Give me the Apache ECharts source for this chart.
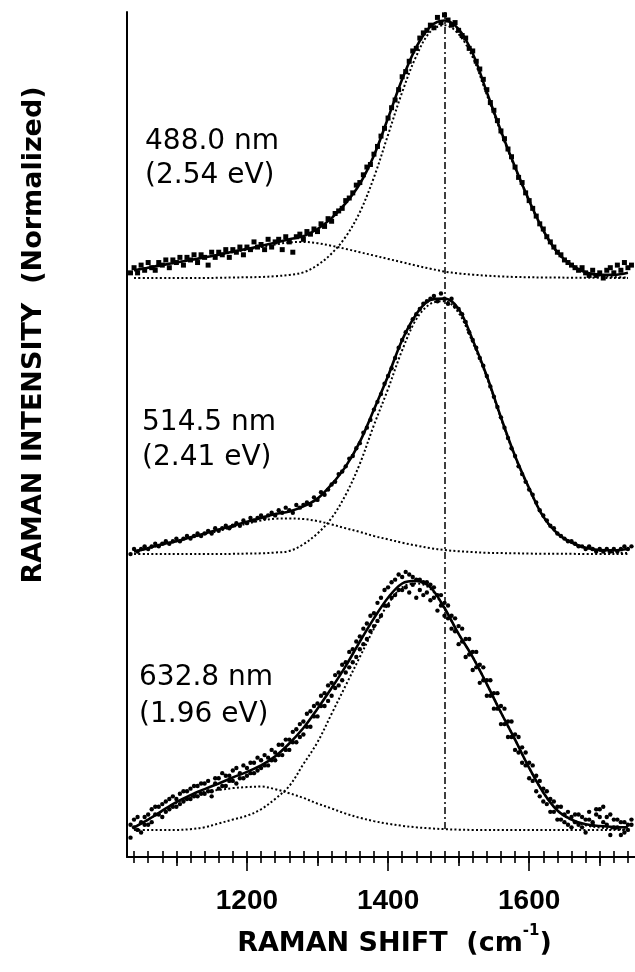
<!DOCTYPE html>
<html><head><meta charset="utf-8">
<script src="https://cdn.jsdelivr.net/npm/echarts@6/dist/echarts.min.js"></script>
<style>html,body{margin:0;padding:0;background:#fff;}#chart{width:635px;height:972px;}</style>
</head><body><div id="chart"></div>
<script>
// ---------- DATA (intensities in % of peak, per spectrum) ----------
const sampleX = [
1035,1040,1045,1050,1055,1060,1065,1070,1075,1080,
1085,1090,1095,1100,1105,1110,1115,1120,1125,1130,
1135,1140,1145,1150,1155,1160,1165,1170,1175,1180,
1185,1190,1195,1200,1205,1210,1215,1220,1225,1230,
1235,1240,1245,1250,1255,1260,1265,1270,1275,1280,
1285,1290,1295,1300,1305,1310,1315,1320,1325,1330,
1335,1340,1345,1350,1355,1360,1365,1370,1375,1380,
1385,1390,1395,1400,1405,1410,1415,1420,1425,1430,
1435,1440,1445,1450,1455,1460,1465,1470,1475,1480,
1485,1490,1495,1500,1505,1510,1515,1520,1525,1530,
1535,1540,1545,1550,1555,1560,1565,1570,1575,1580,
1585,1590,1595,1600,1605,1610,1615,1620,1625,1630,
1635,1640,1645,1650,1655,1660,1665,1670,1675,1680,
1685,1690,1695,1700,1705,1710,1715,1720,1725,1730,
1735,1740,1745];

const data488 = [
2,4,2,5,3,6,4,3,6,5,
7,4,7,6,8,5,8,7,9,6,
9,8,5,10,8,10,9,11,8,11,
10,12,9,12,11,14,12,13,11,15,
12,14,15,11,16,14,10,16,17,15,
18,17,19,18,21,20,23,22,25,26,
27,30,31,33,36,37,40,43,44,48,
51,55,58,62,66,69,73,78,80,84,
88,89,93,95,96,98,97,101,99,102,
100,98,99,96,94,93,89,88,84,81,
77,73,68,65,61,57,54,50,47,43,
39,37,33,30,27,24,21,19,16,14,
12,10,9,7,6,5,4,3,4,2,
1,3,1,2,0,3,4,2,5,3,
6,4,5];

const data514 = [
0,2,1,2,3,2,3,4,3,4,
5,4,5,6,5,6,7,6,7,8,
7,8,9,8,10,9,10,11,10,11,
12,11,13,12,14,13,14,15,14,15,
16,15,17,16,18,17,16,19,18,19,
20,19,22,21,24,23,25,27,28,31,
32,34,37,38,41,43,47,49,52,56,
59,62,66,69,72,76,80,83,86,88,
91,93,95,97,98,99,100,98,101,99,
97,99,96,95,93,90,86,83,80,76,
73,69,65,61,57,53,49,45,41,38,
34,31,28,25,23,20,17,15,13,11,
10,8,7,6,5,5,4,3,3,2,
3,2,1,2,1,2,1,2,1,2,
3,2,3];

const data633a = [
2,4,0,3,5,2,8,6,9,5,
11,8,13,9,14,11,15,12,17,13,
18,14,19,15,20,16,22,17,21,19,
24,20,25,21,26,22,28,24,29,25,
31,27,33,29,35,31,38,34,41,37,
45,40,48,44,52,48,56,52,60,56,
64,61,69,65,73,70,78,74,83,79,
88,83,93,87,96,91,99,93,100,92,
98,90,97,91,96,89,94,85,91,83,
87,78,82,72,78,67,74,62,69,57,
63,52,58,47,53,41,47,36,42,31,
36,26,30,20,25,15,19,11,15,7,
11,4,9,3,7,1,6,2,5,-1,
4,2,6,8,3,5,-2,4,1,3,
-1,2,4];

const data633b = [
-3,1,5,-1,2,6,3,9,6,10,
7,12,9,12,10,15,12,16,13,17,
14,18,15,13,18,20,17,21,19,23,
18,22,20,24,22,26,23,27,25,28,
27,30,29,33,31,35,34,39,36,42,
40,46,44,49,48,53,50,57,55,61,
58,65,63,70,67,75,72,80,77,84,
81,90,87,94,90,97,93,98,94,99,
95,97,93,96,92,95,90,91,87,88,
82,83,77,79,73,74,68,69,63,64,
58,58,52,53,47,48,41,42,36,37,
30,32,25,26,19,21,13,16,10,12,
7,9,4,6,2,5,3,6,1,4,
7,3,8,5,9,2,6,1,4,-2,
3,0,2];

const fitX = [1040,1060,1080,1100,1120,1140,1160,1180,1200,1220,1240,1260,1280,1300,1320,1340,1360,1380,
              1400,1420,1440,1460,1480,1500,1520,1540,1560,1580,1600,1620,1640,1660,1680,1700,1720,1740];

const fit488  = [3,4,5,6,7,8,9,10.2,11.3,12.4,13.7,15,16.2,19,23.2,29,36.5,47.5,62,77,89.5,97.5,99.8,96.5,87,72,57,43,30,18.5,10,5,2.2,1.2,1.2,2];
const main488 = [0,0,0,0,0,0,0.1,0.2,0.3,0.4,0.7,1.2,2.2,5,9.5,16,25.5,39,55.5,72,86,95.5,98,94.5,85.5,71,56.4,42.6,29.7,18.3,9.8,4.8,2.1,0.9,0.4,0.2];
const side488 = [3,4,5,6,7,8,9,10,11,12,13,13.8,14,13.5,12.5,11.3,10,8.7,7.4,6.1,4.8,3.6,2.5,1.8,1.3,0.9,0.6,0.4,0.3,0.2,0.2,0.1,0.1,0.1,0,0];

const fit514  = [1,2.3,3.8,5,6.5,8,9.5,11,12.5,14,15.5,16.5,18.5,21.5,27,34,43.5,56,69,83,93,98.5,99,95,83,69,53,38,25.5,14.5,8,4.5,2.5,1.6,1.5,2];
const main514 = [0,0,0,0,0,0,0,0.1,0.2,0.3,0.6,1.2,3.8,8,14,23,35,50,64,79,91,97,98,93.5,82,68.5,52.6,37.7,25.3,14.4,7.9,4.4,2.4,1.3,0.7,0.4];
const side514 = [1,2.2,3.6,5,6.3,7.7,9,10.5,11.8,13,13.7,13.8,13.6,12.8,11.5,10,8.6,7,5.7,4.4,3.3,2.3,1.6,1.1,0.8,0.5,0.4,0.3,0.2,0.1,0.1,0.1,0,0,0,0];

const fit633  = [1,4,7.5,10.8,13.5,15.8,18,20.3,22.5,25,28.5,33.5,39.5,47,55,63.5,73,82,90,95.5,96.5,94,86,76,67,56.5,45.5,35,24,14.5,7.5,4,2.2,1.5,1.1,1];
const main633 = [0,0,0,0,0.3,1,2.5,4,5.5,8,12,17,25.5,34,45,56,67,78,87.5,94,95.5,93.5,85.7,75.9,67,56.5,45.5,35,24,14.5,7.5,3.8,1.8,0.9,0.4,0.2];
const side633 = [1,4,7.3,10.5,13,14.8,15.5,16.2,16.6,16.8,15.8,14.2,12.4,10.2,8.3,6.3,4.7,3.4,2.4,1.6,1,0.6,0.3,0.1,0,0,0,0,0,0,0,0,0,0,0,0];

// vertical offsets of the three stacked spectra (normalized units)
const offset488 = 2.244, offset514 = 1.174, offset633 = 0.105;
const yMax = 3.275;
const xMin = 1030, xMax = 1750;
const peakLine = 1480;

const laserLabels  = ['488.0 nm', '514.5 nm', '632.8 nm'];
const energyLabels = ['(2.54 eV)', '(2.41 eV)', '(1.96 eV)'];

const tickMinor = [1040,1060,1080,1100,1120,1140,1160,1180,1200,1220,1240,1260,1280,1300,1320,1340,1360,1380,
                   1400,1420,1440,1460,1480,1500,1520,1540,1560,1580,1600,1620,1640,1660,1680,1700,1720,1740];
const tickMid   = [1100,1300,1500,1700];
const tickMajor = [1200,1400,1600];
const labelValues = [1200,1400,1600];

// ---------- BUILD ----------
function pairs(xs, ys, off) {
  const n = Math.min(xs.length, ys.length), out = [];
  for (let i = 0; i < n; i++) out.push([xs[i], off + ys[i] / 100]);
  return out;
}
const dotted = { color: '#000', width: 2, type: [2, 2.3], cap: 'butt' };
function curve(ys, off, solid, extra) {
  return Object.assign({
    type: 'line', data: pairs(fitX, ys, off), smooth: 0.35, showSymbol: false, symbol: 'none',
    silent: true, animation: false, z: solid ? 4 : 3,
    lineStyle: solid ? { color: '#000', width: 2.6 } : dotted
  }, extra || {});
}
function scatter(ys, off, sym, size) {
  return { type: 'scatter', data: pairs(sampleX, ys, off), symbol: sym, symbolSize: size,
           itemStyle: { color: '#000', opacity: 1 }, silent: true, animation: false, z: 2 };
}

const tickAxis = (vals, len, inside) => ({
  type: 'value', min: xMin, max: xMax, position: 'bottom', gridIndex: 0,
  axisLine: { show: false, onZero: false }, axisLabel: { show: false }, splitLine: { show: false },
  axisTick: { show: true, inside: inside, length: len, customValues: vals, lineStyle: { color: '#000', width: 1.6 } }
});

const chart = echarts.init(document.getElementById('chart'), null, { renderer: 'canvas' });
const textFont = '28px "DejaVu Sans"';
const annot = [];
[[145, 142, 176], [142, 423, 458], [139, 678, 715]].forEach((p, i) => {
  annot.push({ type: 'text', x: p[0], y: p[1], style: { text: laserLabels[i], font: textFont, fill: '#000', align: 'left', verticalAlign: 'middle', textAlign: 'left', textVerticalAlign: 'middle' } });
  annot.push({ type: 'text', x: p[0], y: p[2], style: { text: energyLabels[i], font: textFont, fill: '#000', align: 'left', verticalAlign: 'middle', textAlign: 'left', textVerticalAlign: 'middle' } });
});

chart.setOption({
  animation: false,
  backgroundColor: '#fff',
  grid: { left: 127, top: 12, width: 509.4, height: 845, containLabel: false },
  xAxis: [
    {
      type: 'value', min: xMin, max: xMax, position: 'bottom',
      axisLine: { show: true, onZero: false, lineStyle: { color: '#000', width: 2.2 } },
      axisTick: { show: false }, splitLine: { show: false },
      axisLabel: { show: true, customValues: labelValues, margin: 30, color: '#000',
                   formatter: v => String(v),
                   fontFamily: '"Liberation Sans", Arial, sans-serif', fontWeight: 'bold', fontSize: 28 },
      name: 'RAMAN SHIFT  (cm{sup|-1})', nameLocation: 'middle', nameGap: 67,
      nameTextStyle: { color: '#000', fontFamily: '"DejaVu Sans"', fontWeight: 'bold', fontSize: 27, lineHeight: 40,
                       padding: [0, 0, 0, 27],
                       rich: { sup: { color: '#000', fontFamily: '"DejaVu Sans"', fontWeight: 'bold', fontSize: 15, lineHeight: 16, verticalAlign: 'top' } } }
    },
    tickAxis(tickMinor, 6, true),
    tickAxis(tickMinor, 6, false),
    tickAxis(tickMid, 9, false),
    tickAxis(tickMajor, 14, false)
  ],
  yAxis: {
    type: 'value', min: 0, max: yMax,
    axisLine: { show: true, onZero: false, lineStyle: { color: '#000', width: 2 } },
    axisTick: { show: false }, axisLabel: { show: false }, splitLine: { show: false }
  },
  graphic: [
    { type: 'text', x: 34, y: 335, rotation: Math.PI / 2,
      style: { text: 'RAMAN INTENSITY  (Normalized)', font: 'bold 27px "DejaVu Sans"', fill: '#000',
               align: 'center', verticalAlign: 'middle', textAlign: 'center', textVerticalAlign: 'middle' } }
  ].concat(annot),
  series: [
    scatter(data488, offset488, 'rect', 5),
    scatter(data514, offset514, 'circle', 4.4),
    scatter(data633a, offset633, 'circle', 4.4),
    scatter(data633b, offset633, 'circle', 4.4),
    curve(side488, offset488, false), curve(main488, offset488, false), curve(fit488, offset488, true),
    curve(side514, offset514, false), curve(main514, offset514, false), curve(fit514, offset514, true),
    curve(side633, offset633, false), curve(main633, offset633, false),
    curve(fit633, offset633, true, {
      markLine: { silent: true, symbol: 'none', label: { show: false }, animation: false,
        lineStyle: { color: '#000', width: 1.5, type: [7, 3, 2, 3] },
        data: [[{ coord: [peakLine, yMax] }, { coord: [peakLine, offset633] }]] }
    })
  ]
});
</script></body></html>
